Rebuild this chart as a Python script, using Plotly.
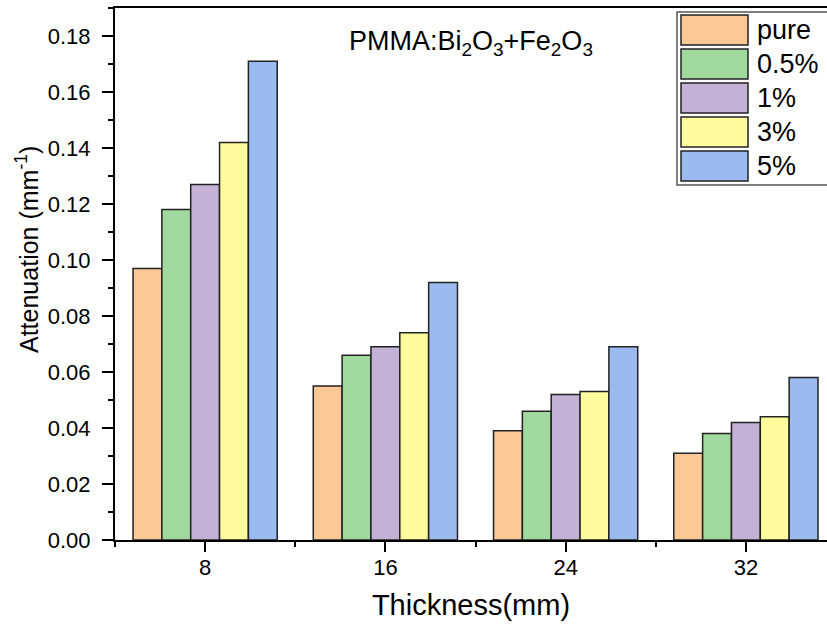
import plotly.graph_objects as go

# Sample thickness (mm) and attenuation values for each filler loading
thickness = [8, 16, 24, 32]
series_names = ["pure", "0.5%", "1%", "3%", "5%"]
pure = [0.097, 0.055, 0.039, 0.031]
half_pct = [0.118, 0.066, 0.046, 0.038]
one_pct = [0.127, 0.069, 0.052, 0.042]
three_pct = [0.142, 0.074, 0.053, 0.044]
five_pct = [0.171, 0.092, 0.069, 0.058]
series_values = [pure, half_pct, one_pct, three_pct, five_pct]
colors = ["#FCC896", "#A0D89E", "#C3B1D6", "#FFFC9E", "#9BBAF0"]

FONT = "Liberation Sans, Arial, sans-serif"
W, H = 827, 626
ML, MR, MT, MB = 115, 0, 8, 86
PW, PH = W - ML - MR, H - MT - MB


def px_x(p):
    return (p - ML) / PW


def px_y(p):
    return (H - MB - p) / PH


fig = go.Figure()
for name, vals, col in zip(series_names, series_values, colors):
    fig.add_trace(go.Bar(
        x=thickness, y=vals, name=name,
        marker=dict(color=col, line=dict(color="#222222", width=1.5)),
        showlegend=False,
    ))

# Boxed legend with large swatches
shapes = [dict(type="rect", xref="paper", yref="paper",
               x0=px_x(677), x1=px_x(829), y0=px_y(185), y1=px_y(12),
               line=dict(color="#555555", width=1.5), fillcolor="white", layer="above")]
annotations = []
for i, (name, col) in enumerate(zip(series_names, colors)):
    top = 15 + i * 34
    shapes.append(dict(type="rect", xref="paper", yref="paper",
                       x0=px_x(681), x1=px_x(748), y0=px_y(top + 30), y1=px_y(top),
                       line=dict(color="#222222", width=1.5), fillcolor=col, layer="above"))
    annotations.append(dict(x=px_x(755), y=px_y(top + 15), xref="paper", yref="paper",
                            text=name, showarrow=False, xanchor="left", yanchor="middle",
                            font=dict(family=FONT, size=27, color="black")))

# Composition label inside the plot
annotations.append(dict(x=0.5, y=px_y(43), xref="paper", yref="paper",
                        text="PMMA:Bi<sub>2</sub>O<sub>3</sub>+Fe<sub>2</sub>O<sub>3</sub>",
                        showarrow=False, xanchor="center", yanchor="middle",
                        font=dict(family=FONT, size=27, color="black")))

# Y-axis title
annotations.append(dict(x=px_x(27), y=px_y(250), xref="paper", yref="paper",
                        text="Attenuation (mm<sup>-1</sup>)", textangle=-90,
                        showarrow=False, xanchor="center", yanchor="middle",
                        font=dict(family=FONT, size=25, color="black")))

fig.update_layout(
    width=W, height=H,
    margin=dict(l=ML, r=MR, t=MT, b=MB, pad=0),
    paper_bgcolor="white", plot_bgcolor="white",
    barmode="group", bargap=0.2, bargroupgap=0,
    font=dict(family=FONT, color="black"),
    shapes=shapes, annotations=annotations,
    xaxis=dict(
        range=[4, 35.6], tick0=0, dtick=8,
        showline=True, linecolor="black", linewidth=2, mirror=True,
        ticks="outside", ticklen=10, tickwidth=2, tickcolor="black",
        minor=dict(dtick=4, ticks="outside", ticklen=5, tickwidth=2, tickcolor="black"),
        showgrid=False, zeroline=False,
        tickfont=dict(family=FONT, size=22), ticklabelstandoff=-3,
        title=dict(text="Thickness(mm)", font=dict(family=FONT, size=29), standoff=15),
    ),
    yaxis=dict(
        range=[0, 0.19], dtick=0.02, tickformat=".2f",
        showline=True, linecolor="black", linewidth=2, mirror=False,
        ticks="outside", ticklen=11, tickwidth=2, tickcolor="black",
        minor=dict(dtick=0.01, ticks="outside", ticklen=5, tickwidth=2, tickcolor="black"),
        showgrid=False, zeroline=False,
        tickfont=dict(family=FONT, size=22), ticklabelstandoff=7,
    ),
)

fig.write_html("out.html")
